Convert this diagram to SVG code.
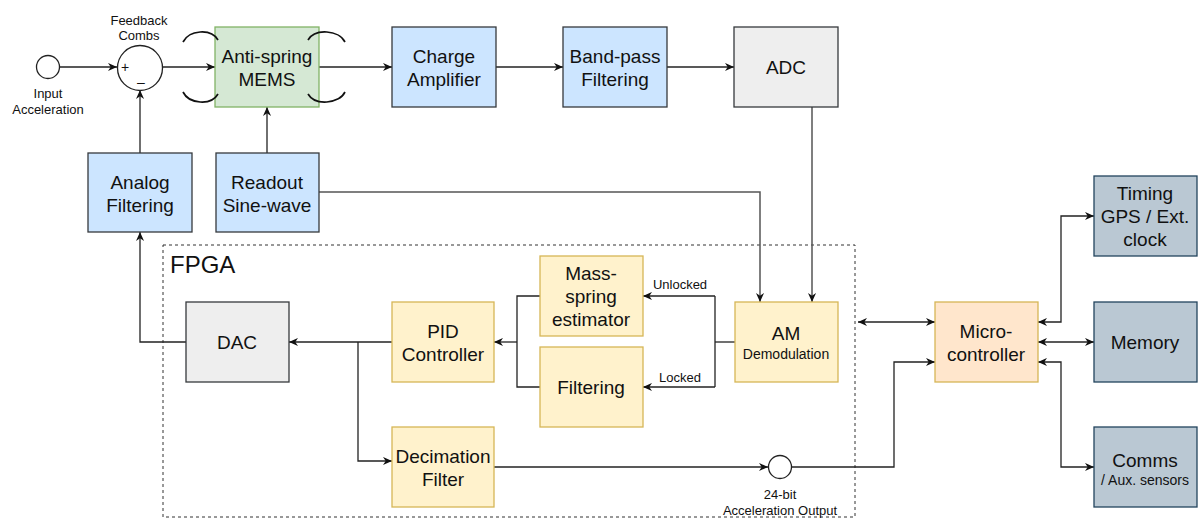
<svg xmlns="http://www.w3.org/2000/svg" width="1198" height="519" viewBox="0 0 1198 519">
<style>
text{font-family:"Liberation Sans",Arial,sans-serif;fill:#111;text-anchor:middle}
.t{font-size:19px}
.s{font-size:13px}
.m{font-size:14px}
.blue{fill:#cce5ff;stroke:#36393d;stroke-width:1.3}
.gray{fill:#eeeeee;stroke:#36393d;stroke-width:1.3}
.yel{fill:#fff2cc;stroke:#d6b656;stroke-width:1.3}
.grn{fill:#d5e8d4;stroke:#82b366;stroke-width:1.3}
.org{fill:#ffe6cc;stroke:#d6b656;stroke-width:1.3}
.slate{fill:#bac8d3;stroke:#23445d;stroke-width:1.3}
.ln{fill:none;stroke:#222;stroke-width:1.3}
.lg{fill:none;stroke:#555;stroke-width:1.5}
.arc{fill:none;stroke:#111;stroke-width:1.7}
.a{marker-end:url(#ah)}
.b{marker-start:url(#ah);marker-end:url(#ah)}
</style>
<defs>
<marker id="ah" viewBox="0 0 10 10" refX="10" refY="5" markerWidth="9" markerHeight="9" markerUnits="userSpaceOnUse" orient="auto-start-reverse">
<path d="M0,0.5 L10,5 L0,9.5 L3,5 z" fill="#111"/>
</marker>
</defs>

<g id="fpga">
<rect x="163" y="245" width="692" height="272" fill="none" stroke="#333" stroke-width="1" stroke-dasharray="3,3"/>
<text x="170" y="273" style="font-size:24px;text-anchor:start">FPGA</text>
</g>

<g id="connectors">
<line class="ln a" x1="60" y1="67" x2="117" y2="67"/>
<line class="ln a" x1="163" y1="67" x2="215" y2="67"/>
<line class="ln a" x1="319" y1="67" x2="392" y2="67"/>
<line class="ln a" x1="496" y1="67" x2="563" y2="67"/>
<line class="ln a" x1="667" y1="67" x2="734" y2="67"/>
<line class="ln a" x1="140" y1="153" x2="140" y2="90"/>
<line class="ln a" x1="267" y1="153" x2="267" y2="107"/>
<polyline class="lg a" points="812,107 812,302"/>
<polyline class="lg a" points="319,192 760,192 760,302"/>
<polyline class="ln a" points="186,342 140,342 140,232"/>
<line class="ln a" x1="392" y1="342" x2="289" y2="342"/>
<polyline class="ln a" points="358,342 358,461 392,461"/>
<polyline class="ln" points="540,296 517,296 517,387 540,387"/>
<line class="ln a" x1="517" y1="342" x2="494" y2="342"/>
<polyline class="ln" points="735,342 715,342"/>
<line class="ln a" x1="715" y1="296" x2="643" y2="296"/>
<line class="ln a" x1="715" y1="387" x2="643" y2="387"/>
<line class="ln" x1="715" y1="296" x2="715" y2="387"/>
<line class="ln a" x1="494" y1="467" x2="768" y2="467"/>
<polyline class="ln a" points="792,467 894,467 894,362 935,362"/>
<line class="ln b" x1="858" y1="322" x2="935" y2="322"/>
<polyline class="ln b" points="1038,322 1061,322 1061,216 1094,216"/>
<line class="ln b" x1="1038" y1="342" x2="1094" y2="342"/>
<polyline class="ln b" points="1038,362 1061,362 1061,467 1094,467"/>
</g>

<g id="input">
<circle cx="48" cy="67" r="11.5" fill="#fff" stroke="#222" stroke-width="1.3"/>
<text class="s" x="48" y="98">Input</text>
<text class="s" x="48" y="114">Acceleration</text>
</g>

<g id="sum">
<circle cx="140" cy="68" r="22.5" fill="#fff" stroke="#222" stroke-width="1.3"/>
<text x="125" y="72" style="font-size:14px">+</text>
<text x="141" y="87" style="font-size:14px">–</text>
<text class="s" x="139" y="25">Feedback</text>
<text class="s" x="139" y="40">Combs</text>
</g>

<g id="mems">
<rect class="grn" x="215" y="27" width="104" height="80"/>
<path class="arc" d="M183,42 C189,30 211,28 218,40"/>
<path class="arc" d="M183,92 C189,104 211,106 218,94"/>
<path class="arc" d="M308,40 C315,28 339,30 345,42"/>
<path class="arc" d="M308,94 C315,106 339,104 345,92"/>
<text class="t" x="267" y="63">Anti-spring</text>
<text class="t" x="267" y="86">MEMS</text>
</g>

<g id="charge">
<rect class="blue" x="392" y="27" width="104" height="80"/>
<text class="t" x="444" y="63">Charge</text>
<text class="t" x="444" y="86">Amplifier</text>
</g>

<g id="bandpass">
<rect class="blue" x="563" y="27" width="104" height="80"/>
<text class="t" x="615" y="63">Band-pass</text>
<text class="t" x="615" y="86">Filtering</text>
</g>

<g id="adc">
<rect class="gray" x="734" y="27" width="104" height="80"/>
<text class="t" x="786" y="74">ADC</text>
</g>

<g id="analog">
<rect class="blue" x="88" y="153" width="104" height="79"/>
<text class="t" x="140" y="189">Analog</text>
<text class="t" x="140" y="212">Filtering</text>
</g>

<g id="readout">
<rect class="blue" x="216" y="153" width="103" height="79"/>
<text class="t" x="267" y="189">Readout</text>
<text class="t" x="267" y="212">Sine-wave</text>
</g>

<g id="dac">
<rect class="gray" x="186" y="302" width="103" height="80"/>
<text class="t" x="237" y="349">DAC</text>
</g>

<g id="pid">
<rect class="yel" x="392" y="302" width="102" height="80"/>
<text class="t" x="443" y="338">PID</text>
<text class="t" x="443" y="361">Controller</text>
</g>

<g id="massspring">
<rect class="yel" x="540" y="256" width="103" height="80"/>
<text class="t" x="591" y="280">Mass-</text>
<text class="t" x="591" y="303">spring</text>
<text class="t" x="591" y="326">estimator</text>
</g>

<g id="filtering">
<rect class="yel" x="540" y="347" width="103" height="80"/>
<text class="t" x="591" y="394">Filtering</text>
</g>

<g id="am">
<rect class="yel" x="735" y="302" width="103" height="80"/>
<text class="t" x="786" y="340">AM</text>
<text class="m" x="786" y="359">Demodulation</text>
</g>

<g id="labels">
<text class="s" x="680" y="289">Unlocked</text>
<text class="s" x="680" y="382">Locked</text>
</g>

<g id="decimation">
<rect class="yel" x="392" y="427" width="102" height="80"/>
<text class="t" x="443" y="463">Decimation</text>
<text class="t" x="443" y="486">Filter</text>
</g>

<g id="output">
<circle cx="780" cy="467" r="11.5" fill="#fff" stroke="#222" stroke-width="1.3"/>
<text class="s" x="780" y="499">24-bit</text>
<text class="s" x="780" y="515">Acceleration Output</text>
</g>

<g id="micro">
<rect class="org" x="935" y="302" width="103" height="80"/>
<text class="t" x="986" y="338">Micro-</text>
<text class="t" x="986" y="361">controller</text>
</g>

<g id="timing">
<rect class="slate" x="1094" y="176" width="103" height="80"/>
<text class="t" x="1145" y="200">Timing</text>
<text class="t" x="1145" y="223">GPS / Ext.</text>
<text class="t" x="1145" y="246">clock</text>
</g>

<g id="memory">
<rect class="slate" x="1094" y="302" width="103" height="80"/>
<text class="t" x="1145" y="349">Memory</text>
</g>

<g id="comms">
<rect class="slate" x="1094" y="427" width="103" height="80"/>
<text class="t" x="1145" y="467">Comms</text>
<text class="m" x="1145" y="485">/ Aux. sensors</text>
</g>
</svg>
